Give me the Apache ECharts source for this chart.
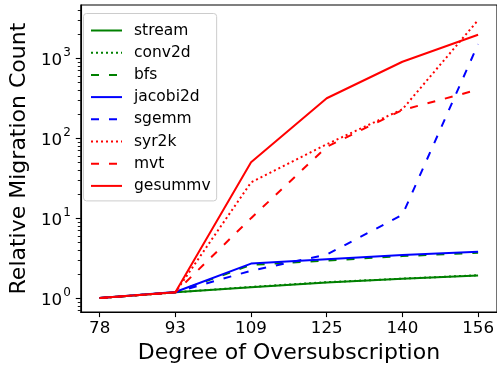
<!DOCTYPE html>
<html><head><meta charset="utf-8">
<script src="https://cdn.jsdelivr.net/npm/echarts@6/dist/echarts.min.js"></script>
<style>html,body{margin:0;padding:0;background:#fff}#c{width:497px;height:369px}</style>
</head><body><div id="c"></div>
<script>
const categories = ['78','93','109','125','140','156'];
const stream   = [1, 1.18, 1.37, 1.57, 1.74, 1.92];
const conv2d   = [1, 1.18, 1.38, 1.58, 1.75, 1.93];
const bfs      = [1, 1.18, 2.6, 2.95, 3.35, 3.7];
const jacobi2d = [1, 1.19, 2.7, 3.07, 3.45, 3.8];
const sgemm    = [1, 1.18, 2.2, 3.5, 11, 1500];
const syr2k    = [1, 1.18, 28, 84, 230, 3000];
const mvt      = [1, 1.18, 10, 78, 225, 405];
const gesummv  = [1, 1.18, 50, 316, 905, 1970];
const yMajor = [1, 10, 100, 1000];
const yMinor = [0.7,0.8,0.9,2,3,4,5,6,7,8,9,20,30,40,50,60,70,80,90,200,300,400,500,600,700,800,900,2000,3000,4000];

const FONT = 'DejaVu Sans';
const DOT = [2, 3];
const DASH = [8, 10];
const spec = [
  ['stream', stream, '#008000', 'solid'],
  ['conv2d', conv2d, '#008000', DOT],
  ['bfs', bfs, '#008000', DASH],
  ['jacobi2d', jacobi2d, '#0000ff', 'solid'],
  ['sgemm', sgemm, '#0000ff', DASH],
  ['syr2k', syr2k, '#ff0000', DOT],
  ['mvt', mvt, '#ff0000', DASH],
  ['gesummv', gesummv, '#ff0000', 'solid']
];
const series = spec.map(([name, vals, color, type]) => ({
  name, type: 'line', symbol: 'none', animation: false,
  data: vals.map((v, i) => [i, v]),
  lineStyle: { color, width: 2, type },
  itemStyle: { color }
}));
const yMin = 0.668, yMax = 4637;
const chart = echarts.init(document.getElementById('c'), null, {renderer: 'canvas'});
chart.setOption({
  animation: false,
  grid: { left: 75.7, top: 5, width: 422, height: 307.3, show: true, borderColor: '#000', borderWidth: 1.1 },
  legend: {
    orient: 'vertical', left: 83.5, top: 13.5,
    data: spec.map(s => s[0]),
    itemStyle: { opacity: 0 },
    itemWidth: 31, itemHeight: 14, itemGap: 6.2,
    padding: [9, 6, 7, 6.5],
    backgroundColor: 'rgba(255,255,255,0.8)', borderColor: '#cccccc', borderWidth: 1, borderRadius: 3,
    textStyle: { fontFamily: FONT, fontSize: 15.5, color: '#000', padding: [0, 0, 0, 7] }
  },
  xAxis: {
    type: 'value', min: -0.25, max: 5.25,
    name: 'Degree of Oversubscription', nameLocation: 'middle', nameGap: 28,
    nameTextStyle: { fontFamily: FONT, fontSize: 22, color: '#000' },
    axisLine: { show: true, onZero: false, lineStyle: { color: '#000', width: 1.1 } },
    axisTick: { show: true, length: 5, lineStyle: { color: '#000', width: 1.1 }, customValues: [0,1,2,3,4,5] },
    axisLabel: { customValues: [0,1,2,3,4,5], formatter: v => categories[Math.round(v)], fontFamily: FONT, fontSize: 16.7, color: '#000', margin: 8 },
    splitLine: { show: false }
  },
  yAxis: [{
    type: 'log', logBase: 10, min: yMin, max: yMax,
    name: 'Relative Migration Count', nameLocation: 'middle', nameGap: 50,
    nameTextStyle: { fontFamily: FONT, fontSize: 22, color: '#000' },
    axisLine: { show: true, onZero: false, lineStyle: { color: '#000', width: 1.1 } },
    axisTick: { show: true, length: 5, lineStyle: { color: '#000', width: 1.1 }, customValues: yMajor },
    axisLabel: {
      customValues: yMajor, margin: 10,
      formatter: v => '{a|10}{b|' + Math.round(Math.log10(v)) + '}',
      rich: {
        a: { fontFamily: FONT, fontSize: 16.7, color: '#000', lineHeight: 22, verticalAlign: 'bottom' },
        b: { fontFamily: FONT, fontSize: 12, color: '#000', lineHeight: 22, verticalAlign: 'top', padding: [0,0,6,1] }
      }
    },
    splitLine: { show: false }
  }, {
    type: 'log', logBase: 10, min: yMin, max: yMax, position: 'left',
    axisLine: { show: false, onZero: false },
    axisTick: { show: true, length: 3, lineStyle: { color: '#000', width: 0.9 }, customValues: yMinor },
    axisLabel: { show: false },
    splitLine: { show: false }
  }],
  series
});
</script></body></html>
